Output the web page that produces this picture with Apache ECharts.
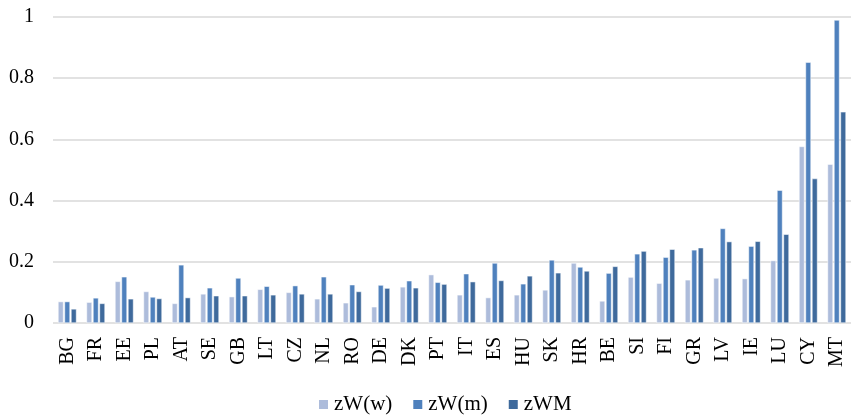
<!DOCTYPE html>
<html><head><meta charset="utf-8">
<script src="https://cdn.jsdelivr.net/npm/echarts@6/dist/echarts.min.js"></script>
<style>html,body{margin:0;padding:0;background:#fff}#c{width:851px;height:416px}</style>
</head><body><div id="c"></div>
<script>
const categories = ['BG','FR','EE','PL','AT','SE','GB','LT','CZ','NL','RO','DE','DK','PT','IT','ES','HU','SK','HR','BE','SI','FI','GR','LV','IE','LU','CY','MT'];
const zWw = [0.070,0.068,0.136,0.103,0.064,0.095,0.086,0.110,0.100,0.079,0.066,0.053,0.118,0.158,0.092,0.083,0.092,0.108,0.196,0.072,0.150,0.130,0.141,0.147,0.145,0.204,0.577,0.519];
const zWm = [0.070,0.082,0.151,0.085,0.190,0.115,0.147,0.120,0.122,0.151,0.125,0.124,0.138,0.133,0.161,0.196,0.128,0.206,0.183,0.163,0.226,0.215,0.239,0.309,0.251,0.434,0.852,0.990];
const zWM = [0.046,0.064,0.079,0.080,0.083,0.089,0.089,0.092,0.095,0.095,0.103,0.114,0.115,0.127,0.135,0.139,0.154,0.164,0.170,0.185,0.235,0.241,0.246,0.266,0.267,0.290,0.472,0.690];
const yTicks = [0, 0.2, 0.4, 0.6, 0.8, 1];

const font = 'Liberation Serif';
const chart = echarts.init(document.getElementById('c'));
const mk = (name, data, color) => ({
  name, type: 'bar', data, barWidth: 5.5, barGap: '18%',
  itemStyle: { color, borderColor: '#fff', borderWidth: 0.5 }
});
chart.setOption({
  animation: false,
  textStyle: { fontFamily: font },
  grid: { left: 53, right: 0, top: 17, bottom: 93 },
  legend: {
    top: 394, left: 317, padding: 0, itemWidth: 11, itemHeight: 11, itemGap: 19,
    icon: 'rect',
    textStyle: { fontFamily: font, fontSize: 21, color: '#000', lineHeight: 21 },
    data: ['zW(w)', 'zW(m)', 'zWM']
  },
  xAxis: {
    type: 'category', data: categories,
    axisLine: { show: false },
    axisTick: { show: false },
    axisLabel: { rotate: 90, fontFamily: font, fontSize: 20, color: '#000', margin: 14, interval: 0 }
  },
  yAxis: {
    type: 'value', min: 0, max: 1, interval: 0.2,
    axisLine: { show: false }, axisTick: { show: false },
    splitLine: { lineStyle: { color: '#d9d9d9', width: 1.5 } },
    axisLabel: {
      fontFamily: font, fontSize: 20, color: '#000', margin: 19,
      formatter: v => { const t = yTicks.find(x => Math.abs(x - v) < 1e-9); return t === undefined ? '' : String(t); }
    }
  },
  series: [
    mk('zW(w)', zWw, '#adbcdb'),
    mk('zW(m)', zWm, '#4f81bd'),
    mk('zWM', zWM, '#3f6a9c')
  ]
});
</script></body></html>
